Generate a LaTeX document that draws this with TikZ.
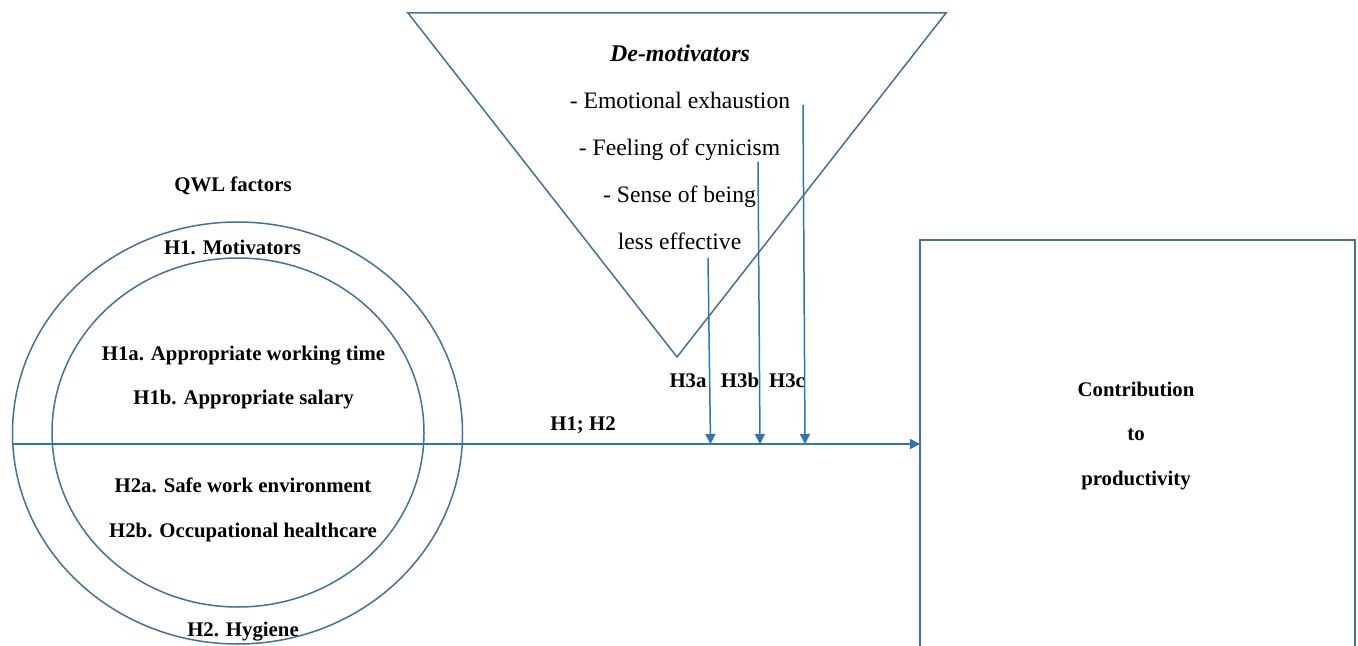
\documentclass[tikz,border=0pt]{standalone}
\usepackage{fontspec}
\setmainfont{Liberation Serif}
\usetikzlibrary{shapes.geometric,arrows.meta}
\definecolor{shapeblue}{HTML}{41719C}
\definecolor{arrowblue}{HTML}{2E75B6}
\tikzset{
  shapeline/.style={draw=shapeblue,line width=0.75pt},
  arrowline/.style={draw=arrowblue,line width=0.75pt,-{Triangle[length=5pt,width=5pt]}},
  boldtxt/.style={font=\fontsize{10.4}{12}\selectfont\bfseries,inner sep=0pt,anchor=base},
  regtxt/.style={font=\fontsize{11.8}{14}\selectfont,inner sep=0pt,anchor=base},
}
\begin{document}
\begin{tikzpicture}[x=0.5pt,y=-0.5pt]
\useasboundingbox (0,0) rectangle (1358,646);
\clip (0,0) rectangle (1358,646);
% circles
\node[shapeline,ellipse,minimum width=225pt,minimum height=211pt,inner sep=0pt,outer sep=0pt] (outer) at (237.5,433) {};
\node[shapeline,ellipse,minimum width=186pt,minimum height=174.5pt,inner sep=0pt,outer sep=0pt] (inner) at (238,432.5) {};
% triangle
\coordinate (tl) at (408,13);
\coordinate (tr) at (946,13);
\coordinate (tb) at (677,357);
\draw[shapeline,line join=miter] (tl) -- (tr) -- (tb) -- cycle;
% box
\node[shapeline,rectangle,minimum width=217.5pt,minimum height=240pt,inner sep=0pt,outer sep=0pt,anchor=north west] (box) at (920,240) {};
% texts
\node[boldtxt] (qwl) at (233,192) {QWL factors};
\node[boldtxt] (h1) at (232.5,255) {H1. Motivators};
\node[boldtxt] (h1a) at (243.5,360) {H1a. Appropriate working time};
\node[boldtxt] (h1b) at (243.5,404) {H1b. Appropriate salary};
\node[boldtxt] (h2a) at (243,492) {H2a. Safe work environment};
\node[boldtxt] (h2b) at (243,537) {H2b. Occupational healthcare};
\node[boldtxt] (h2) at (243,636) {H2. Hygiene};
\node[boldtxt] (h12) at (583,430) {H1; H2};
\node[boldtxt] (h3a) at (688,387) {H3a};
\node[boldtxt] (h3b) at (740,387) {H3b};
\node[boldtxt] (h3c) at (787,387) {H3c};
\node[boldtxt] (c1) at (1136,396) {Contribution};
\node[boldtxt] (c2) at (1136,440) {to};
\node[boldtxt] (c3) at (1136,485) {productivity};
\node[font=\fontsize{12}{14}\selectfont\bfseries\itshape,inner sep=0pt,anchor=base] (dm) at (680,62) {De-motivators};
\node[regtxt] (d1) at (680,109) {- Emotional exhaustion};
\node[regtxt] (d2) at (679.5,156) {- Feeling of cynicism};
\node[regtxt] (d3) at (679.5,203) {- Sense of being};
\node[regtxt] (d4) at (679.5,250) {less effective};
% connectors
\coordinate (start) at (12.5,444);
\draw[arrowline] (start) -- (start -| box.west);
\coordinate (t3a) at (708,258);
\coordinate (t3b) at (758,162);
\coordinate (t3c) at (803,105);
\coordinate (e3a) at (710.5,444);
\coordinate (e3b) at (760,444);
\coordinate (e3c) at (805,444);
\draw[arrowline] (t3a) -- (e3a);
\draw[arrowline] (t3b) -- (e3b);
\draw[arrowline] (t3c) -- (e3c);
\end{tikzpicture}
\end{document}
